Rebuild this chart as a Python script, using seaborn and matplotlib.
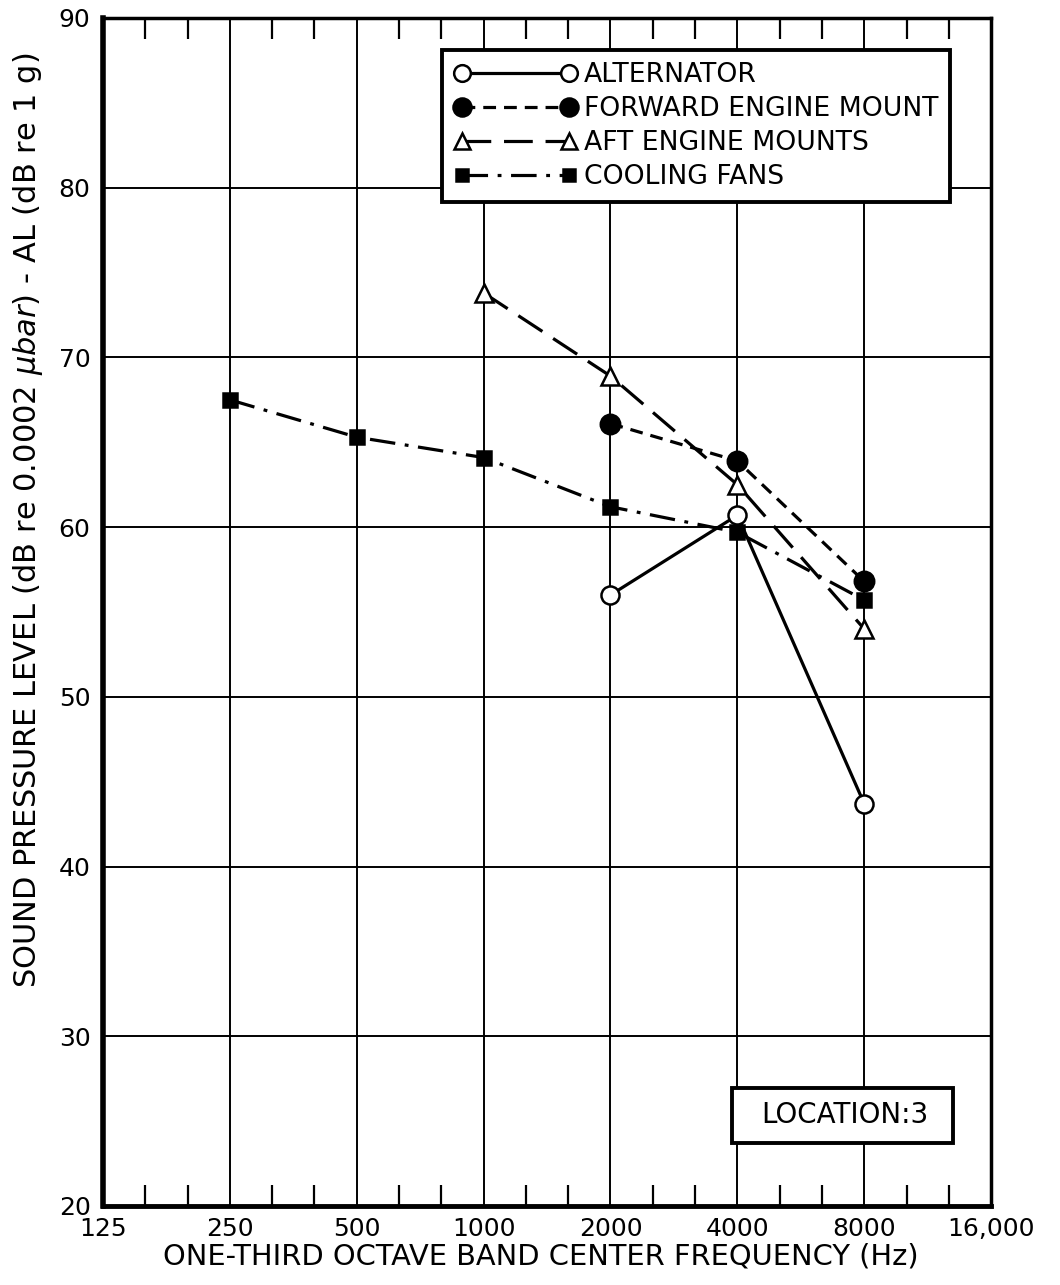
import matplotlib
matplotlib.use('Agg')
import matplotlib.pyplot as plt
from matplotlib.lines import Line2D
from matplotlib.patches import Rectangle
import seaborn as sns
import numpy as np
import pandas as pd

# data
freq_alt = [2000, 4000, 8000]
spl_alt = [56.0, 60.7, 43.7]

freq_fwd = [2000, 4000, 8000]
spl_fwd = [66.1, 63.9, 56.8]

freq_aft = [1000, 2000, 4000, 8000]
spl_aft = [73.8, 68.9, 62.5, 54.0]

freq_fan = [250, 500, 1000, 2000, 4000, 8000]
spl_fan = [67.5, 65.3, 64.1, 61.2, 59.7, 55.7]

labels = ['ALTERNATOR', 'FORWARD ENGINE MOUNT', 'AFT ENGINE MOUNTS', 'COOLING FANS']
xticks = [125, 250, 500, 1000, 2000, 4000, 8000, 16000]
xticklabels = ['125', '250', '500', '1000', '2000', '4000', '8000', '16,000']
yticks = [20, 30, 40, 50, 60, 70, 80, 90]

sns.set_style('white')
plt.rcParams['font.family'] = ['DejaVu Sans']
plt.rcParams['text.color'] = 'black'
plt.rcParams['axes.labelcolor'] = 'black'
plt.rcParams['xtick.color'] = 'black'
plt.rcParams['ytick.color'] = 'black'

fig = plt.figure(figsize=(10.6, 12.85), dpi=100)
ax = fig.add_axes([0.0972, 0.0615, 0.8378, 0.9245])

styles = {
    'ALTERNATOR': dict(marker='o', markersize=13, markerfacecolor='white', linestyle='-'),
    'FORWARD ENGINE MOUNT': dict(marker='o', markersize=14, markerfacecolor='black', linestyle=(0, (4, 2.5))),
    'AFT ENGINE MOUNTS': dict(marker='^', markersize=13, markerfacecolor='white', linestyle=(0, (9, 4))),
    'COOLING FANS': dict(marker='s', markersize=10, markerfacecolor='black', linestyle=(0, (8, 3, 1.2, 3))),
}

series = [(freq_alt, spl_alt), (freq_fwd, spl_fwd), (freq_aft, spl_aft), (freq_fan, spl_fan)]
for name, (f, s) in zip(labels, series):
    df = pd.DataFrame({'freq': f, 'spl': s})
    st = styles[name]
    sns.lineplot(data=df, x='freq', y='spl', ax=ax, color='black', lw=2.3,
                 marker=st['marker'], markersize=st['markersize'],
                 markerfacecolor=st['markerfacecolor'], markeredgecolor='black',
                 markeredgewidth=1.8, linestyle=st['linestyle'], zorder=5)

ax.set_xscale('log', base=2)
ax.set_xlim(125, 16000)
ax.set_ylim(20, 90)
ax.set_xticks(xticks)
ax.set_xticklabels(xticklabels)
ax.set_yticks(yticks)
minor = [125 * 2 ** (k / 3) for k in range(22) if k % 3 != 0]
ax.set_xticks(minor, minor=True)
ax.grid(True, which='major', color='black', lw=1.4)
ax.tick_params(axis='x', which='minor', direction='in', length=15, width=1.6,
               top=True, bottom=True, labelbottom=False)
ax.tick_params(axis='x', which='major', length=0, labelsize=18, pad=8)
ax.tick_params(axis='y', which='major', length=0, labelsize=18, pad=9)

for side in ['top', 'right']:
    ax.spines[side].set_linewidth(2.5)
    ax.spines[side].set_color('black')
ax.spines['left'].set_linewidth(4)
ax.spines['bottom'].set_linewidth(3.5)
ax.spines['left'].set_color('black')
ax.spines['bottom'].set_color('black')

ax.set_xlabel('ONE-THIRD OCTAVE BAND CENTER FREQUENCY (Hz)', fontsize=20.8)
ax.xaxis.set_label_coords(0.493, -0.031)
ax.set_ylabel(r'SOUND PRESSURE LEVEL (dB re 0.0002 $\mu bar$) - AL (dB re 1 g)', fontsize=22)
ax.yaxis.set_label_coords(-0.065, 0.577)

handles = []
for name in labels:
    st = styles[name]
    handles.append(Line2D([0], [0], color='black', lw=2.3, marker=st['marker'],
                          markersize=st['markersize'] - 1, markerfacecolor=st['markerfacecolor'],
                          markeredgecolor='black', markeredgewidth=1.8, linestyle=st['linestyle']))
leg = ax.legend(handles, labels, loc='upper left', bbox_to_anchor=(0.382, 0.973), numpoints=2,
                handlelength=4.6, handletextpad=0.25, fontsize=19.2, frameon=True, fancybox=False,
                borderpad=0.45, labelspacing=0.3, edgecolor='black', framealpha=1,
                borderaxespad=0)
leg.get_frame().set_linewidth(2.8)
leg.set_zorder(10)

# location box
ax.add_patch(Rectangle((0.708, 0.053), 0.249, 0.0465, transform=ax.transAxes,
                       facecolor='white', edgecolor='black', lw=2.8, zorder=10))
ax.text(0.835, 0.0766, 'LOCATION:3', transform=ax.transAxes, fontsize=20,
        ha='center', va='center', zorder=11)

fig.savefig('out.png', dpi=100)
